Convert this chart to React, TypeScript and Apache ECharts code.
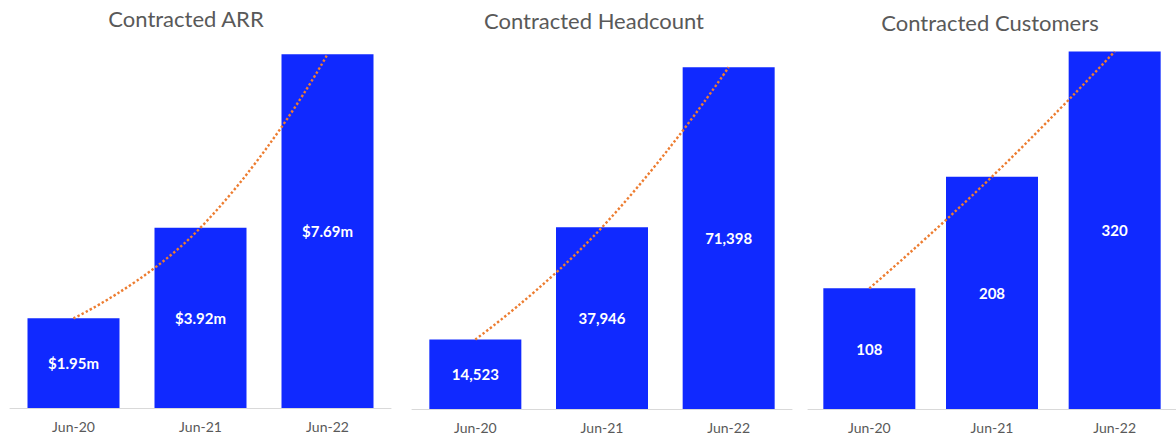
import React, { useEffect, useRef } from "react";
import * as echarts from "echarts";

const categories = ["Jun-20", "Jun-21", "Jun-22"];
const arrValues = [1.95, 3.92, 7.69];
const headcountValues = [14523, 37946, 71398];
const customerValues = [108, 208, 320];
const titles = ["Contracted ARR", "Contracted Headcount", "Contracted Customers"];

const fmtArr = (v: number) => `$${v.toFixed(2)}m`;
const fmtInt = (v: number) => v.toLocaleString("en-US");

const BAR = "#1029FF";
const LINE = "#ED7D31";
const GRAY = "#595959";
const FONT = "Lato";

export default function App() {
  const ref = useRef<HTMLDivElement>(null);
  useEffect(() => {
    document.body.style.margin = "0";
    if (!ref.current) return;
    const chart = echarts.init(ref.current, undefined, { renderer: "svg" });
    const grids = [
      { left: 10, width: 381, top: 40, bottom: 30 },
      { left: 412, width: 380, top: 26, bottom: 29 },
      { left: 808, width: 377, top: 18, bottom: 29 },
    ];
    const maxes = [8, 80000, 350];
    const datasets = [arrValues, headcountValues, customerValues];
    const formatters = [fmtArr, fmtInt, fmtInt];
    const titlePos = [
      [186, 18],
      [594, 20],
      [990, 22],
    ];
    const series: any[] = [];
    datasets.forEach((d, i) => {
      series.push({
        type: "bar",
        xAxisIndex: i,
        yAxisIndex: i,
        data: d,
        barWidth: 92,
        itemStyle: { color: BAR },
        label: {
          show: true,
          position: "inside",
          color: "#ffffff",
          fontWeight: "bold",
          fontSize: 15,
          fontFamily: FONT,
          formatter: (p: any) => formatters[i](p.value),
        },
        z: 1,
      });
      series.push({
        type: "line",
        xAxisIndex: i,
        yAxisIndex: i,
        data: d,
        smooth: true,
        symbol: "none",
        lineStyle: { color: LINE, width: 2.4, type: [2.4, 2.2] },
        z: 3,
      });
    });
    chart.setOption({
      animation: false,
      grid: grids,
      xAxis: grids.map((_, i) => ({
        type: "category",
        gridIndex: i,
        data: categories,
        axisLine: { lineStyle: { color: "#D9D9D9", width: 1 } },
        axisTick: { show: false },
        axisLabel: { color: GRAY, fontSize: 14, fontFamily: FONT, margin: 11 },
      })),
      yAxis: grids.map((_, i) => ({
        type: "value",
        gridIndex: i,
        min: 0,
        max: maxes[i],
        show: false,
        splitLine: { show: false },
      })),
      graphic: titles.map((t, i) => ({
        type: "text",
        x: titlePos[i][0],
        y: titlePos[i][1],
        style: {
          text: t,
          align: "center",
          verticalAlign: "middle",
          fontSize: 22,
          fontFamily: FONT,
          fill: GRAY,
        },
      })),
      series,
    });
    return () => chart.dispose();
  }, []);
  return <div ref={ref} style={{ width: 1176, height: 438 }} />;
}
